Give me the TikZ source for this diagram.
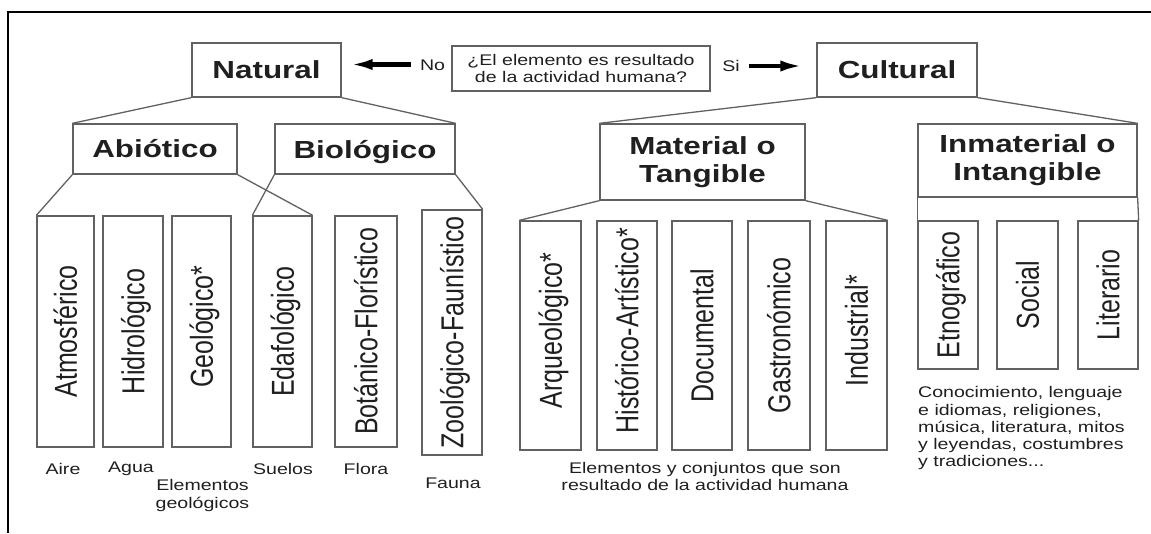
\documentclass[tikz,border=0pt]{standalone}
\usepackage{fontspec}
\usepackage{tikz}
\usetikzlibrary{positioning,calc,arrows.meta}

\newfontfamily\hfont[FakeStretch=1.27]{Liberation Sans}
\newfontfamily\vfont[FakeStretch=0.787]{Liberation Sans}

\tikzset{
	caja/.style={draw=black!62, line width=1.3pt, inner sep=0pt, text=black!88},
	titulo/.style={caja, font=\hfont\bfseries\fontsize{24.7}{28}\selectfont, align=center},
	hoja/.style={caja, rotate=90, font=\vfont\fontsize{31.75}{34}\selectfont, text height=22.7pt, text depth=0pt},
	nota/.style={inner sep=0pt, text=black!88, font=\hfont\fontsize{15.4}{17.2}\selectfont},
	etiq/.style={nota, text height=11pt, text depth=0pt},
	rama/.style={draw=black!62, line width=1.3pt},
	flecha/.style={line width=4.5pt, -{Latex[length=24pt,width=11pt]}}
}

\begin{document}
\begin{tikzpicture}[x=1pt, y=-1pt]
	\useasboundingbox (0,0) rectangle (1151,533);
	
	% Marco
	\draw[line width=2pt] (1151,12) -- (8,12) -- (8,533);
	
	% --- PREGUNTA Y PRIMER NIVEL ---
	\node[caja, nota, minimum width=258, minimum height=45, align=center] (preg) at (581,68.5)
		{¿El elemento es resultado\\de la actividad humana?};
	\node[titulo, minimum width=149, minimum height=54] (nat) at (266.5,70) {Natural};
	\node[titulo, minimum width=160, minimum height=54] (cul) at (897,70) {Cultural};
	\node[etiq] (no) at (432.5,64.5) {No};
	\node[etiq] (si) at (731,66) {Si};
	\draw[flecha, shorten <=9pt, shorten >=7pt] (no.west) -- (no.west -| nat.east);
	\draw[flecha, shorten <=9pt, shorten >=12pt] (si.east) -- (si.east -| cul.west);
	
	% --- SEGUNDO NIVEL ---
	\node[titulo, minimum width=164, minimum height=50] (abi) at (155,149) {Abiótico};
	\node[titulo, minimum width=180, minimum height=50, text depth=0pt] (bio) at (365,149) {Biológico};
	\node[titulo, minimum width=205, minimum height=76] (mat) at (702.5,162) {Material o\\Tangible};
	\node[titulo, minimum width=219, minimum height=73] (inm) at (1027.5,160.5) {Inmaterial o\\Intangible};
	
	% --- HOJAS (nombre/texto/x izq./x der.) ---
	\foreach \n/\t/\xa/\xb in {
		atm/Atmosférico/37/94, hid/Hidrológico/103/163, geo/{Geológico\rlap{*}}/172/231,
		eda/Edafológico/253/312, bot/Botánico-Florístico/335/397
	} {
		\node[hoja, minimum width=231, minimum height=\xb-\xa] (\n) at ({(\xa+\xb)/2},331.5) {\t};
	}
	\node[hoja, minimum width=245, minimum height=60] (zoo) at (452,332.5) {Zoológico-Faunístico};
	
	\foreach \n/\t/\xa/\xb in {
		arq/{Arqueológico\rlap{*}}/520/581, his/{Histórico-Artístico\rlap{*}}/597/657,
		doc/Documental/672/732, gas/Gastronómico/748/810, ind/{Industrial\rlap{*}}/826/887
	} {
		\node[hoja, minimum width=229, minimum height=\xb-\xa] (\n) at ({(\xa+\xb)/2},335.5) {\t};
	}
	
	\foreach \n/\t/\xa/\xb in {
		etn/Etnográfico/918/978, soc/Social/997/1058, lit/Literario/1078/1138
	} {
		\node[hoja, minimum width=148, minimum height=\xb-\xa] (\n) at ({(\xa+\xb)/2},295) {\t};
	}
	
	% --- RAMAS ---
	\draw[rama] (nat.south west) -- (abi.north west);
	\draw[rama] (nat.south east) -- (bio.north east);
	\draw[rama] (cul.south west) -- (mat.north west);
	\draw[rama] (cul.south east) -- (inm.north east);
	% hojas giradas: north east = arriba izq., south east = arriba der.
	\draw[rama] (abi.south west) -- (atm.north east);
	\draw[rama] (abi.south east) -- (eda.south east);
	\draw[rama] (bio.south west) -- (eda.north east);
	\draw[rama] (bio.south east) -- (zoo.south east);
	\draw[rama] (mat.south west) -- (arq.north east);
	\draw[rama] (mat.south east) -- (ind.south east);
	\draw[rama] (inm.south west) -- (etn.north east);
	\draw[rama] (inm.south east) -- (lit.south east);
	
	% --- NOTAS ---
	\node[etiq] (aire) at (63,469) {Aire};
	\node[etiq] (agua) at (131,467) {Agua};
	\node[nota, align=center] (elem) at (202.5,495.5) {Elementos\\geológicos};
	\node[etiq] (suel) at (283,469) {Suelos};
	\node[etiq] (flor) at (366,469) {Flora};
	\node[etiq] (faun) at (453,483) {Fauna};
	\node[nota, align=center] (conj) at (705,476.5)
		{Elementos y conjuntos que son\\resultado de la actividad humana};
	\node[nota, align=left, anchor=north west] (cono) at (918,386.5)
		{Conocimiento, lenguaje\\e idiomas, religiones,\\música, literatura, mitos\\y leyendas, costumbres\\y tradiciones...};
\end{tikzpicture}
\end{document}
